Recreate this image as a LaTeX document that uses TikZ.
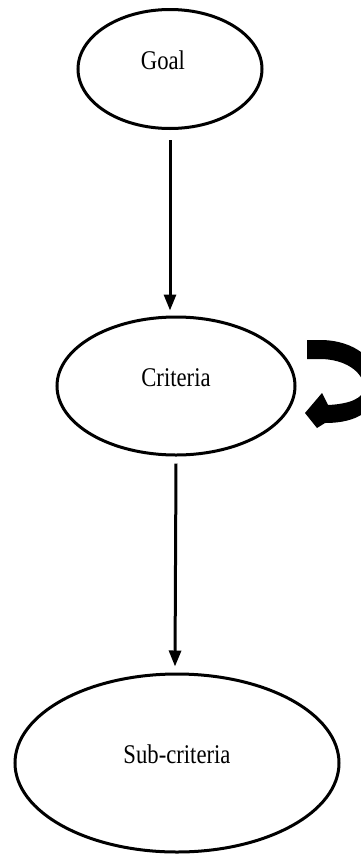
\documentclass[tikz,border=0pt]{standalone}
\usepackage{fontspec}
\setmainfont{Liberation Serif}
\usetikzlibrary{shapes.geometric,arrows.meta}
\newcommand{\condtxt}[1]{\smash{\scalebox{0.84}[1]{#1}}}
\begin{document}
\begin{tikzpicture}[x=1pt,y=-1pt,
  ell/.style={draw=black,line width=3pt,ellipse,inner sep=0pt,
    font=\fontsize{27}{31}\selectfont},
  arr/.style={line width=3pt,-{Triangle[length=16pt,width=12pt]}}]
\useasboundingbox (0,0) rectangle (361,854);
\node[ell,minimum width=184pt,minimum height=119pt] (goal) at (170,69) {\condtxt{Goal}\hspace*{14pt}};
\node[ell,minimum width=238pt,minimum height=138pt] (crit) at (176,386) {\condtxt{Criteria}};
\node[ell,minimum width=324pt,minimum height=178pt] (sub) at (177,763) {\condtxt{Sub-criteria}};
\draw[arr] ([yshift=-10pt]goal.south) -- ([xshift=-6pt,yshift=5pt]crit.north);
\draw[arr] ([yshift=-7pt]crit.south) -- ([xshift=-2pt,yshift=6pt]sub.north);
% curved feedback arrow
\fill[black] (307,340) -- (320,340)
  .. controls (355,340) and (378,360) .. (378,383)
  .. controls (378,410) and (358,423) .. (325,423)
  -- (317,428) -- (305,413) -- (322,393) -- (328,405)
  .. controls (350,404) and (364,398) .. (364,388)
  .. controls (364,372) and (345,359) .. (320,359)
  -- (307,359) -- cycle;
\end{tikzpicture}
\end{document}
